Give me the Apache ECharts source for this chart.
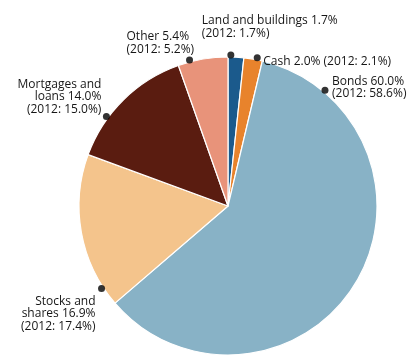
<!DOCTYPE html>
<html>
<head>
<meta charset="utf-8">
<script src="https://cdn.jsdelivr.net/npm/echarts@6/dist/echarts.min.js"></script>
<style>html,body{margin:0;padding:0;background:#fff}#c{width:413px;height:358px}</style>
</head>
<body>
<div id="c"></div>
<script>
// Data (clockwise from 12 o'clock)
var categories = ['Land and buildings', 'Cash', 'Bonds', 'Stocks and shares', 'Mortgages and loans', 'Other'];
var values2013 = [1.7, 2.0, 60.0, 16.9, 14.0, 5.4];
var values2012 = [1.7, 2.1, 58.6, 17.4, 15.0, 5.2];
var labelLines = [
  ['Land and buildings 1.7%', '(2012: 1.7%)'],
  ['Cash 2.0% (2012: 2.1%)'],
  ['Bonds 60.0%', '(2012: 58.6%)'],
  ['Stocks and', 'shares 16.9%', '(2012: 17.4%)'],
  ['Mortgages and', 'loans 14.0%', '(2012: 15.0%)'],
  ['Other 5.4%', '(2012: 5.2%)']
];
// Marker dot positions around the rim, as % of the full circle from 12 o'clock
var dotAngles = [0.3, 3.1, 11.1, 65.8, 85.1, 95.9];

var colors = ['#1b5a8c', '#e8832c', '#88b2c6', '#f4c48c', '#5a1c10', '#e8937a'];
// label offsets from each dot: dx, dy of first line centre, alignment
var labelPos = [
  {dx: -29, dy: -34, align: 'left'},
  {dx: 6, dy: 4, align: 'left'},
  {dx: 7, dy: -9, align: 'left'},
  {dx: -6, dy: 13, align: 'right'},
  {dx: -5, dy: -32, align: 'right'},
  {dx: -63, dy: -23, align: 'left'}
];
var LINE_H = 12.3;
var FONT = '12px "Open Sans"';

var CX = 228, CY = 206, R = 149;

var pieData = categories.map(function (c, i) {
  return {name: c, value: values2013[i], itemStyle: {color: colors[i]}};
});
var dotData = categories.map(function (c, i) {
  return {name: c, value: [1, dotAngles[i]]};
});

var chart = echarts.init(document.getElementById('c'), null, {renderer: 'canvas'});
chart.setOption({
  animation: false,
  backgroundColor: '#ffffff',
  polar: {center: [CX, CY], radius: R + 2},
  angleAxis: {type: 'value', min: 0, max: 100, startAngle: 90, clockwise: true, show: false},
  radiusAxis: {type: 'value', min: 0, max: 1, show: false},
  series: [
    {
      type: 'pie',
      center: [CX, CY],
      radius: [0, R],
      startAngle: 90,
      clockwise: true,
      label: {show: false},
      labelLine: {show: false},
      emphasis: {disabled: true},
      itemStyle: {borderColor: '#ffffff', borderWidth: 1.2},
      data: pieData
    },
    {
      type: 'scatter',
      coordinateSystem: 'polar',
      symbol: 'circle',
      symbolSize: 7,
      itemStyle: {color: '#000000'},
      emphasis: {disabled: true},
      label: {show: false},
      data: dotData,
      z: 5
    }
  ]
});

// measure text so right-aligned lines can be placed flush right
var mctx = document.createElement('canvas').getContext('2d');
mctx.font = FONT;

// Text labels anchored to the dots' pixel positions (from the polar scale)
var texts = [];
dotData.forEach(function (d, i) {
  var p = chart.convertToPixel({seriesIndex: 1}, d.value);
  var lp = labelPos[i];
  labelLines[i].forEach(function (line, j) {
    var x = p[0] + lp.dx;
    if (lp.align === 'right') x -= mctx.measureText(line).width;
    texts.push({
      type: 'text',
      x: x,
      y: p[1] + lp.dy + j * LINE_H,
      silent: true,
      z: 10,
      style: {
        text: line,
        fill: '#161616',
        font: FONT,
        align: 'left',
        verticalAlign: 'middle'
      }
    });
  });
});
chart.setOption({graphic: texts});
</script>
</body>
</html>
